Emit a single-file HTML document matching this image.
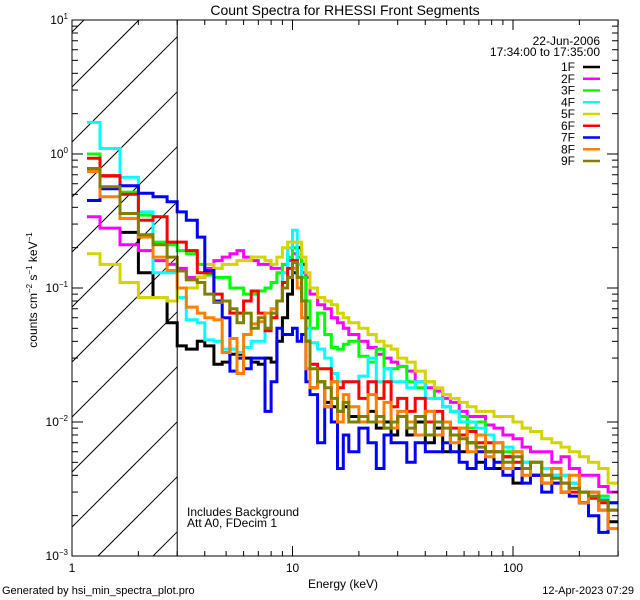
<!DOCTYPE html>
<html><head><meta charset="utf-8">
<style>
html,body{margin:0;padding:0;background:#fff;width:640px;height:600px;overflow:hidden;}
svg{display:block;font-family:"Liberation Sans",sans-serif;}
</style></head>
<body>
<svg id="chart" width="640" height="600" viewBox="0 0 640 600" xmlns="http://www.w3.org/2000/svg">
<rect width="640" height="600" fill="#fff"/>
<defs><clipPath id="plotClip"><rect x="72" y="20" width="546" height="536"/></clipPath></defs>
<g id="hatch"></g>
<g id="series" clip-path="url(#plotClip)"></g>
<g id="axes"></g>
<text x="345" y="15" font-size="14" text-anchor="middle">Count Spectra for RHESSI Front Segments</text>
<text x="343" y="588" font-size="12" text-anchor="middle">Energy (keV)</text>
<text transform="translate(37,290) rotate(-90)" font-size="12" text-anchor="middle">counts cm<tspan font-size="8" dy="-5">−2</tspan><tspan dy="5"> s</tspan><tspan font-size="8" dy="-5">−1</tspan><tspan dy="5"> keV</tspan><tspan font-size="8" dy="-5">−1</tspan></text>
<text x="600" y="45" font-size="12" text-anchor="end">22-Jun-2006</text>
<text x="600" y="56" font-size="12" text-anchor="end">17:34:00 to 17:35:00</text>
<text x="187" y="516" font-size="12">Includes Background</text>
<text x="187" y="527" font-size="12">Att A0, FDecim 1</text>
<text x="2" y="594" font-size="11">Generated by hsi_min_spectra_plot.pro</text>
<text x="634" y="594" font-size="11" text-anchor="end">12-Apr-2023 07:29</text>
<g id="legend"></g>
</svg>
<script>
const energyEdges = [1.17,1.34,1.65,2.0,2.33,2.7,3.0,3.3,3.7,4.0,4.4,4.8,5.2,5.6,6.0,6.5,7,7.5,8,8.5,9,9.5,10,10.5,11,11.5,12,13,14,15,16,17,18,20,22,24,26,28,30,33,36,40,44,48,52,57,62,68,75,82,90,100,110,120,135,150,165,180,200,220,245,270,300];
const seriesNames = ["1F","2F","3F","4F","5F","6F","7F","8F","9F"];
const seriesColors = ["#000000","#ff00ff","#00ff00","#00ffff","#d4d400","#ff0000","#0000ff","#ff8000","#808000"];
const s1F = [null,null,0.26,0.13,0.085,0.055,
 0.037,0.035,0.04,0.037,0.027,0.028,0.032,0.032,
 0.03,0.028,0.027,0.03,0.028,0.04,0.06,0.09,
 0.13,0.2,0.15,0.06,
 0.018,0.02,0.014,0.013,0.012,0.013,
 0.011,0.01,0.012,0.009,0.01,0.008,
 0.011,0.008,0.01,0.007,0.009,0.006,
 0.008,0.006,0.007,0.005,0.006,0.0045,
 0.0055,0.0035,0.0045,0.004,0.0035,0.0045,
 0.003,0.0035,0.0025,0.003,0.0022,0.0018];
const s2F = [0.34,0.28,0.21,0.19,0.16,0.15,
 0.14,0.12,0.12,0.14,0.16,0.17,0.18,0.19,
 0.17,0.16,0.15,0.15,0.14,0.14,0.15,0.16,
 0.18,0.15,0.13,0.12,
 0.09,0.075,0.07,0.06,0.055,0.05,
 0.045,0.04,0.036,0.032,0.03,0.028,
 0.026,0.024,0.02,0.018,0.017,0.015,
 0.014,0.012,0.011,0.011,0.0095,0.009,
 0.008,0.0075,0.0065,0.006,0.006,0.005,
 0.0055,0.0045,0.004,0.004,0.0033,0.003];
const s3F = [1.0,0.68,0.52,0.35,0.22,0.21,
 0.19,0.18,0.15,0.125,0.12,0.12,0.1,0.1,
 0.09,0.09,0.095,0.1,0.11,0.13,0.15,0.17,
 0.2,0.17,0.12,0.08,
 0.05,0.065,0.045,0.036,0.035,0.038,
 0.04,0.031,0.028,0.035,0.025,0.025,
 0.026,0.02,0.018,0.02,0.015,0.013,
 0.012,0.011,0.009,0.01,0.008,0.007,
 0.006,0.006,0.005,0.005,0.0045,0.004,
 0.004,0.0035,0.003,0.003,0.0028,0.0025];
const s4F = [1.72,1.1,0.67,0.37,0.13,0.13,
 0.085,0.058,0.055,0.041,0.04,0.035,0.035,0.033,
 0.036,0.04,0.04,0.05,0.06,0.08,0.13,0.2,
 0.27,0.15,0.08,0.05,
 0.039,0.035,0.03,0.023,0.02,0.02,
 0.02,0.022,0.03,0.02,0.025,0.02,
 0.02,0.018,0.02,0.015,0.015,0.013,
 0.012,0.01,0.01,0.009,0.008,0.007,
 0.0065,0.006,0.005,0.005,0.0045,0.004,
 0.004,0.0035,0.003,0.003,0.0027,0.0025];
const s5F = [0.18,0.15,0.11,0.085,0.085,0.08,
 0.1,0.1,0.12,0.15,0.14,0.15,0.15,0.16,
 0.16,0.17,0.17,0.16,0.15,0.17,0.2,0.22,
 0.22,0.22,0.17,0.13,
 0.1,0.085,0.08,0.075,0.065,0.06,
 0.055,0.05,0.045,0.04,0.037,0.035,
 0.03,0.028,0.024,0.02,0.018,0.016,
 0.015,0.014,0.013,0.012,0.012,0.011,
 0.011,0.01,0.009,0.0085,0.0075,0.007,
 0.0065,0.006,0.0055,0.005,0.0045,0.0035];
const s6F = [0.93,0.69,0.5,0.32,0.34,0.22,
 0.22,0.19,0.13,0.13,0.09,0.08,0.065,0.065,
 0.08,0.095,0.065,0.048,0.06,0.08,0.11,0.14,
 0.16,0.12,0.08,0.04,
 0.027,0.025,0.025,0.02,0.018,0.02,
 0.02,0.015,0.02,0.015,0.02,0.013,
 0.015,0.012,0.015,0.01,0.012,0.01,
 0.009,0.008,0.0085,0.007,0.007,0.006,
 0.0055,0.005,0.0045,0.004,0.004,0.0035,
 0.0035,0.003,0.003,0.0027,0.0025,0.0022];
const s7F = [0.45,0.55,0.58,0.51,0.48,0.44,
 0.37,0.32,0.24,0.135,0.08,0.06,0.024,0.03,
 0.025,0.03,0.03,0.012,0.02,0.05,0.045,0.045,
 0.05,0.04,0.045,0.02,
 0.016,0.007,0.013,0.01,0.0045,0.008,
 0.006,0.009,0.007,0.0045,0.008,0.007,
 0.007,0.005,0.007,0.006,0.006,0.007,
 0.006,0.005,0.0045,0.006,0.0045,0.005,
 0.004,0.0045,0.0035,0.004,0.003,0.0035,
 0.003,0.0028,0.0025,0.002,0.0015,0.0025];
const s8F = [0.74,0.48,0.33,0.24,0.17,0.135,
 0.1,0.072,0.065,0.06,0.058,0.033,0.042,0.023,
 0.045,0.054,0.056,0.065,0.07,0.08,0.1,0.12,
 0.14,0.1,0.06,0.025,
 0.018,0.02,0.013,0.02,0.01,0.016,
 0.013,0.01,0.016,0.01,0.014,0.009,
 0.012,0.01,0.008,0.012,0.008,0.01,
 0.007,0.009,0.006,0.008,0.0055,0.007,
 0.0045,0.006,0.004,0.005,0.0035,0.0045,
 0.003,0.004,0.0025,0.003,0.0022,0.0016];
const s9F = [0.78,0.57,0.36,0.25,0.21,0.17,
 0.134,0.115,0.11,0.09,0.078,0.08,0.07,0.055,
 0.065,0.05,0.06,0.05,0.065,0.08,0.1,0.12,
 0.155,0.12,0.08,0.04,
 0.025,0.02,0.018,0.015,0.012,0.014,
 0.01,0.011,0.01,0.011,0.009,0.01,
 0.011,0.009,0.011,0.008,0.01,0.009,
 0.008,0.0075,0.007,0.0065,0.006,0.006,
 0.005,0.0055,0.0045,0.005,0.004,0.0038,
 0.0035,0.0032,0.003,0.0028,0.0026,0.0022];
const seriesValues = [s1F,s2F,s3F,s4F,s5F,s6F,s7F,s8F,s9F];
const xMajorTicks = [1,10,100];
const xTickLabels = ["1","10","100"];
const yMajorTicks = [10,1,0.1,0.01,0.001];
const yTickExps = ["1","0","−1","−2","−3"];

const X0=72,X1=618,Y0=20,Y1=556;
const xLogMin=0, xDec=220.5, yLogMax=1, yDec=134;
function xs(e){return X0+(Math.log10(e)-xLogMin)*xDec;}
function ys(v){return Y0+(yLogMax-Math.log10(v))*yDec;}
const NS="http://www.w3.org/2000/svg";
function mk(tag,attrs,parent){const el=document.createElementNS(NS,tag);for(const k in attrs)el.setAttribute(k,attrs[k]);parent.appendChild(el);return el;}

const hatch=document.getElementById('hatch');
const HX1=xs(3);
for(let k=-2;k<12;k++){
  const y0=527-55*k;
  const xa=Math.max(X0, X0+(y0-Y1));
  const xb=Math.min(HX1, X0+(y0-Y0));
  if(xb<=xa) continue;
  const ln=mk('line',{x1:xa,y1:y0-(xa-X0),x2:xb,y2:y0-(xb-X0),stroke:'#000','stroke-width':1},hatch);
  
  
}
const vline=mk('line',{x1:HX1,y1:Y0,x2:HX1,y2:Y1,stroke:'#000','stroke-width':1},document.getElementById('axes'));



const sg=document.getElementById('series');
seriesValues.forEach((vals,si)=>{
  let d='';let pen=false;
  for(let i=0;i<vals.length;i++){
    const v=vals[i];
    if(v==null){pen=false;continue;}
    const xa=xs(energyEdges[i]).toFixed(1),xb=xs(energyEdges[i+1]).toFixed(1),y=ys(v).toFixed(1);
    d+=(pen?'L':'M')+xa+' '+y+'L'+xb+' '+y;
    pen=true;
  }
  const p=mk('path',{d:d,fill:'none',stroke:seriesColors[si],'stroke-width':3,'stroke-linejoin':'miter'},sg);
  
  
});

const ax=document.getElementById('axes');
const frame=mk('rect',{x:X0,y:Y0,width:X1-X0,height:Y1-Y0,fill:'none',stroke:'#000','stroke-width':1},ax);


for(let dec=1;dec<=100;dec*=10){
  for(let m=1;m<10;m++){
    const e=dec*m; if(e>300) break;
    const x=xs(e); const L=(m==1)?10:5;
    mk('line',{x1:x,y1:Y1,x2:x,y2:Y1-L,stroke:'#000'},ax);
    mk('line',{x1:x,y1:Y0,x2:x,y2:Y0+L,stroke:'#000'},ax);
  }
}
xMajorTicks.forEach((t,i)=>{
  const tx=mk('text',{x:xs(t),y:Y1+16,'font-size':12,'text-anchor':'middle'},ax);
  tx.textContent=xTickLabels[i];
  
  
});
for(let dec=0.001;dec<10;dec*=10){
  for(let m=1;m<=10;m++){
    const v=dec*m; const y=ys(v); const L=(m==1||m==10)?11:6;
    mk('line',{x1:X0,y1:y,x2:X0+L,y2:y,stroke:'#000'},ax);
    mk('line',{x1:X1,y1:y,x2:X1-L,y2:y,stroke:'#000'},ax);
  }
}
yMajorTicks.forEach((t,i)=>{
  const tx=mk('text',{x:X0-4,y:ys(t)+4,'font-size':12,'text-anchor':'end'},ax);
  
  
  const a=document.createElementNS(NS,'tspan');a.textContent='10';tx.appendChild(a);
  const b=document.createElementNS(NS,'tspan');b.setAttribute('font-size','8');b.setAttribute('dy','-5');b.textContent=yTickExps[i];tx.appendChild(b);
});

const lg=document.getElementById('legend');
seriesNames.forEach((n,i)=>{
  const y=67+i*11.75;
  const t=mk('text',{x:575,y:y+4,'font-size':12,'text-anchor':'end'},lg);
  t.textContent=n;
  
  
  const l=mk('line',{x1:583,y1:y,x2:600,y2:y,stroke:seriesColors[i],'stroke-width':2.5},lg);
  
  
});
</script>
</body></html>
